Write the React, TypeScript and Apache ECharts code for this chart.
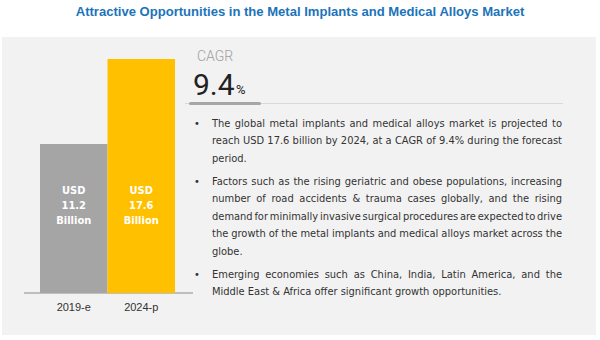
import React, { useEffect, useRef } from "react";
import * as echarts from "echarts";

const titleText = "Attractive Opportunities in the Metal Implants and Medical Alloys Market";
const categories = ["2019-e", "2024-p"];
const values = [11.2, 17.6];
const barColors = ["#a5a5a5", "#ffc000"];
const valuePrefix = "USD";
const valueSuffix = "Billion";
const cagrLabel = "CAGR";
const cagrValue = "9.4";
const cagrUnit = "%";
const paragraphs: string[][] = [
  [
    "The global metal implants and medical alloys market is projected to",
    "reach USD 17.6 billion by 2024, at a CAGR of 9.4% during the forecast",
    "period.",
  ],
  [
    "Factors such as the rising geriatric and obese populations, increasing",
    "number of road accidents & trauma cases globally, and the rising",
    "demand for minimally invasive surgical procedures are expected to drive",
    "the growth of the metal implants and medical alloys market across the",
    "globe.",
  ],
  [
    "Emerging economies such as China, India, Latin America, and the",
    "Middle East & Africa offer significant growth opportunities.",
  ],
];

const NARROW = "'DejaVu Sans Condensed', sans-serif";
const TITLE_FONT = "bold 13px 'Liberation Sans', Arial, sans-serif";

function measure(text: string, font: string): number {
  const ctx = document.createElement("canvas").getContext("2d")!;
  ctx.font = font;
  return ctx.measureText(text).width;
}

function buildText(): any[] {
  const els: any[] = [];
  const fontSize = 11;
  const font = `${fontSize}px ${NARROW}`;
  const left = 212;
  const right = 562;
  const lineH = 17.5;
  const paraStarts = [123, 181, 274];
  paragraphs.forEach((lines, pi) => {
    const y0 = paraStarts[pi];
    els.push({
      type: "text",
      x: 197,
      y: y0,
      style: { text: "•", fill: "#333", font, textAlign: "center", textVerticalAlign: "middle" },
    });
    lines.forEach((line, li) => {
      const y = y0 + li * lineH;
      const isLast = li === lines.length - 1;
      if (isLast) {
        els.push({
          type: "text",
          x: left,
          y,
          style: { text: line, fill: "#333", font, textAlign: "left", textVerticalAlign: "middle" },
        });
      } else {
        const words = line.split(" ");
        const widths = words.map((w) => measure(w, font));
        const total = widths.reduce((a, b) => a + b, 0);
        const gap = (right - left - total) / (words.length - 1);
        let x = left;
        words.forEach((w, wi) => {
          els.push({
            type: "text",
            x,
            y,
            style: { text: w, fill: "#333", font, textAlign: "left", textVerticalAlign: "middle" },
          });
          x += widths[wi] + gap;
        });
      }
    });
  });
  return els;
}

export default function App() {
  const ref = useRef<HTMLDivElement>(null);
  useEffect(() => {
    document.body.style.margin = "0";
    const chart = echarts.init(ref.current!, undefined, { renderer: "svg" });
    const titleW = measure(titleText, TITLE_FONT);
    const titleScale = 450 / titleW;
    const option: any = {
      animation: false,
      backgroundColor: "#ffffff",
      grid: { left: 40, right: 425, top: 27, bottom: 47 },
      xAxis: {
        type: "category",
        data: categories,
        axisLine: { show: false },
        axisTick: { show: false },
        axisLabel: { color: "#333", fontSize: 11, margin: 8, fontFamily: "'Liberation Sans', Arial, sans-serif" },
      },
      yAxis: { type: "value", min: 0, max: 20, show: false, splitLine: { show: false } },
      series: [
        {
          type: "bar",
          barCategoryGap: "0%",
          data: values.map((v, i) => ({ value: v, itemStyle: { color: barColors[i] } })),
          label: {
            show: true,
            position: "insideBottom",
            distance: 65,
            color: "#fff",
            fontWeight: "bold",
            fontSize: 11,
            lineHeight: 15,
            fontFamily: NARROW,
            formatter: (p: any) => `${valuePrefix}\n${p.value}\n${valueSuffix}`,
          },
        },
      ],
      graphic: [
        { type: "rect", z: -10, shape: { x: 2, y: 37, width: 594, height: 298 }, style: { fill: "#f2f2f2" } },
        {
          type: "text",
          x: 300,
          y: 12,
          scaleX: titleScale,
          style: { text: titleText, fill: "#1b74b9", font: TITLE_FONT, textAlign: "center", textVerticalAlign: "middle" },
        },
        { type: "line", shape: { x1: 24, y1: 293, x2: 193, y2: 293 }, style: { stroke: "#8c8c8c", lineWidth: 1 } },
        {
          type: "text",
          x: 197,
          y: 56,
          style: { text: cagrLabel, fill: "#a0a0a0", font: "300 14px Roboto, sans-serif", textAlign: "left", textVerticalAlign: "middle" },
        },
        {
          type: "text",
          x: 193,
          y: 84,
          style: { text: cagrValue, fill: "#222", font: "30px Roboto, sans-serif", textAlign: "left", textVerticalAlign: "middle" },
        },
        {
          type: "text",
          x: 236,
          y: 89,
          style: { text: cagrUnit, fill: "#222", font: "13px Roboto, sans-serif", textAlign: "left", textVerticalAlign: "middle" },
        },
        { type: "line", shape: { x1: 185, y1: 103.5, x2: 563, y2: 103.5 }, style: { stroke: "#d9d9d9", lineWidth: 1 } },
        { type: "rect", shape: { x: 189, y: 102, width: 72, height: 3, r: 1.5 }, style: { fill: "#a6a6a6" } },
        ...buildText(),
      ],
    };
    chart.setOption(option);
    return () => chart.dispose();
  }, []);
  return <div ref={ref} style={{ width: 600, height: 340 }} />;
}
